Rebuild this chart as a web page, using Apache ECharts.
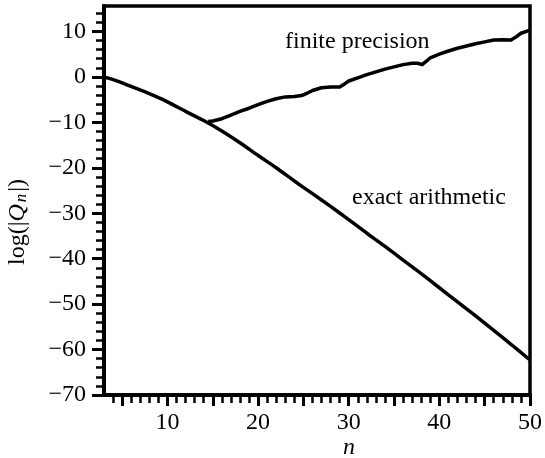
<!DOCTYPE html>
<html>
<head>
<meta charset="utf-8">
<script src="https://cdn.jsdelivr.net/npm/echarts@6/dist/echarts.min.js"></script>
<style>
  html, body { margin: 0; padding: 0; background: #ffffff; }
  #chart { width: 545px; height: 458px; }
</style>
</head>
<body>
<div id="chart"></div>
<script>
// exact arithmetic curve
var exactN = [3, 4, 5, 6, 8, 10, 12, 14, 16, 18, 20, 22, 24, 26, 28, 30, 32, 34, 36, 38, 40, 42, 44, 46, 48, 50];
var exactQ = [0, -0.6, -1.3, -2.1, -3.7, -5.5, -7.6, -9.6, -11.9, -14.5, -17.3, -20.0, -22.9, -25.7, -28.5, -31.4, -34.4, -37.3, -40.3, -43.3, -46.4, -49.5, -52.6, -55.8, -59.0, -62.3];

// finite precision curve (branches off near n = 14.5)
var finiteN = [14.5, 15, 16, 17, 18, 19, 20, 21, 22, 23, 24, 24.8, 25.5, 26, 27, 28, 29, 29.5, 30, 31, 32, 33, 34, 35, 36, 37, 37.6, 38.1, 38.6, 39, 40, 41, 42, 43, 44, 45, 46, 47, 47.9, 48.4, 49, 50];
var finiteQ = [-9.8, -9.7, -9.2, -8.4, -7.6, -6.9, -6.1, -5.4, -4.8, -4.4, -4.3, -4.1, -3.5, -3.0, -2.4, -2.2, -2.2, -1.6, -0.9, -0.2, 0.5, 1.1, 1.7, 2.2, 2.7, 3.0, 3.0, 2.7, 3.5, 4.2, 5.0, 5.7, 6.3, 6.8, 7.3, 7.7, 8.1, 8.2, 8.1, 8.7, 9.6, 10.3];

// ticks and labels
var xMinorTicks = [4, 5, 6, 7, 8, 9, 10, 11, 12, 13, 14, 15, 16, 17, 18, 19, 20, 21, 22, 23, 24, 25, 26, 27, 28, 29, 30, 31, 32, 33, 34, 35, 36, 37, 38, 39, 40, 41, 42, 43, 44, 45, 46, 47, 48, 49, 50];
var xMajorTicks = [5, 10, 15, 20, 25, 30, 35, 40, 45, 50];
var xLabels = [10, 20, 30, 40, 50];
var yMinorTicks = [-70, -68, -66, -64, -62, -60, -58, -56, -54, -52, -50, -48, -46, -44, -42, -40, -38, -36, -34, -32, -30, -28, -26, -24, -22, -20, -18, -16, -14, -12, -10, -8, -6, -4, -2, 0, 2, 4, 6, 8, 10, 12, 14];
var yLabels = [-70, -60, -50, -40, -30, -20, -10, 0, 10];

function zip(a, b) {
  return a.map(function (v, i) { return [v, b[i]]; });
}

var font = 'Liberation Serif';
var chart = echarts.init(document.getElementById('chart'));

var option = {
  backgroundColor: '#ffffff',
  animation: false,
  grid: {
    left: 104, right: 13, top: 6, bottom: 63,
    show: true, borderColor: '#000', borderWidth: 3.5, backgroundColor: 'transparent'
  },
  xAxis: [
    {
      type: 'value', min: 3, max: 50,
      axisLine: { onZero: false, lineStyle: { color: '#000', width: 4 } },
      axisTick: { length: 8, lineStyle: { color: '#000', width: 2.5 }, customValues: xMinorTicks },
      axisLabel: { show: false },
      splitLine: { show: false }
    },
    {
      type: 'value', min: 3, max: 50, position: 'bottom',
      axisLine: { show: false, onZero: false },
      axisTick: { length: 11, lineStyle: { color: '#000', width: 3 }, customValues: xMajorTicks },
      axisLabel: { customValues: xLabels, margin: 16, color: '#000', fontFamily: font, fontSize: 24 },
      splitLine: { show: false }
    }
  ],
  yAxis: [
    {
      type: 'value', min: -70, max: 15.6,
      axisLine: { onZero: false, lineStyle: { color: '#000', width: 4 } },
      axisTick: { length: 8, lineStyle: { color: '#000', width: 2.5 }, customValues: yMinorTicks },
      axisLabel: { show: false },
      splitLine: { show: false }
    },
    {
      type: 'value', min: -70, max: 15.6, position: 'left',
      axisLine: { show: false, onZero: false },
      axisTick: { length: 12, lineStyle: { color: '#000', width: 3 }, customValues: yLabels },
      axisLabel: {
        customValues: yLabels, margin: 18, color: '#000', fontFamily: font, fontSize: 24,
        formatter: function (v) { return v < 0 ? '\u2212' + Math.abs(v) : String(v); }
      },
      splitLine: { show: false }
    }
  ],
  series: [
    {
      name: 'exact arithmetic', type: 'line', data: zip(exactN, exactQ),
      showSymbol: false, smooth: 0.2,
      lineStyle: { color: '#000', width: 3.5 }
    },
    {
      name: 'finite precision', type: 'line', data: zip(finiteN, finiteQ),
      showSymbol: false,
      lineStyle: { color: '#000', width: 3.5, join: 'round' }
    }
  ],
  graphic: [
    {
      type: 'text', left: 285, top: 30,
      style: { text: 'finite precision', font: '24px ' + font, fill: '#000' }
    },
    {
      type: 'text', left: 352, top: 186,
      style: { text: 'exact arithmetic', font: '24px ' + font, fill: '#000' }
    },
    {
      type: 'text', x: 343, y: 436,
      style: { text: 'n', font: 'italic 24px ' + font, fill: '#000' }
    },
    {
      type: 'text', x: 5, y: 265, rotation: Math.PI / 2,
      style: {
        text: 'log(|{q|Q}{s|n}|)',
        font: '24px ' + font, fill: '#000',
        rich: {
          q: { fontFamily: font, fontSize: 24, fontStyle: 'italic', padding: [0, 2, 0, 0] },
          s: { fontFamily: font, fontSize: 17, fontStyle: 'italic', padding: [8, 2, 0, 0] }
        }
      }
    }
  ]
};

option && chart.setOption(option);
</script>
</body>
</html>
